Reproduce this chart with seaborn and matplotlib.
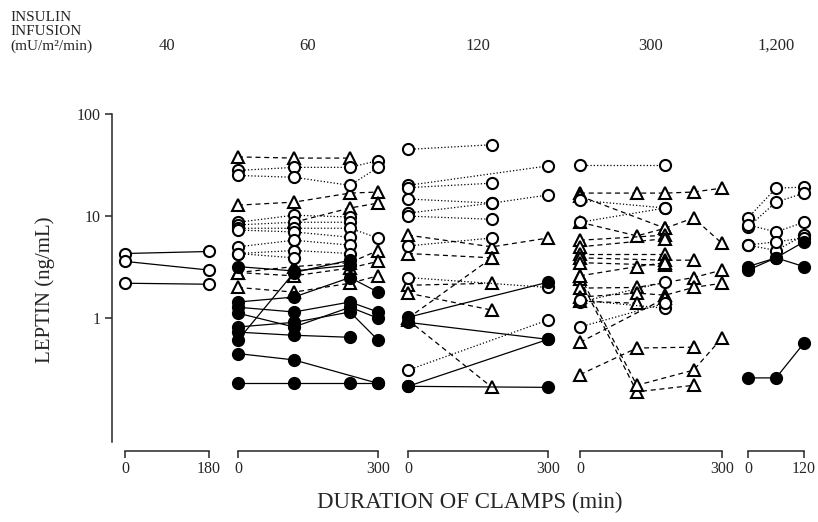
import numpy as np
import pandas as pd
import matplotlib
matplotlib.use("Agg")
import matplotlib.pyplot as plt
from matplotlib.ticker import NullLocator
import seaborn as sns

nan = np.nan

# insulin infusion rate written over each panel (mU/m2/min)
INFUSION = ["40", "60", "120", "300", "1,200"]

# leptin (ng/mL) per subject; open = open circles, tri = open triangles, filled = filled circles
P40_TIMES = [0, 180]
P40_OPEN = [[4.3, 4.5], [3.6, 2.96], [2.2, 2.15]]

P60_TIMES = [0, 120, 240, 300]
P60_OPEN = [[28, 30, 30, 35], [25, 24, 20, 30], [8.7, 10.2, 9.8, nan], [8.2, 8.7, 8.7, nan],
            [7.6, 7.6, 7.6, 6.1], [7.3, 7.0, 6.2, nan], [5.0, 5.8, 5.2, nan],
            [4.3, 4.6, 4.3, nan], [4.3, 3.9, nan, nan]]
P60_TRI = [[38, 37, 37, nan], [12.8, 13.7, 16.8, 17.2], [2.0, 1.8, 2.2, 2.6],
           [nan, 8.7, 12.0, 13.4], [2.8, 3.2, 3.5, 4.6], [2.8, 2.6, 3.1, 3.6]]
P60_FILLED = [[3.2, 2.9, 3.3, nan], [1.44, 1.61, 2.5, 1.8], [1.28, 1.15, 1.44, 1.15],
              [1.12, 0.82, 1.28, 1.0], [0.82, 0.91, 1.15, 0.61], [0.73, 0.68, 0.65, nan],
              [0.61, 2.8, 3.7, nan], [0.45, 0.39, nan, 0.23], [0.23, 0.23, 0.23, 0.23]]

P120_TIMES = [0, 180, 300]
P120_OPEN = [[45, 50, nan], [20, nan, 31], [19, 21, nan], [14.7, 13.4, 16.1],
             [10.7, 13.4, nan], [10, 9.3, nan], [5.1, 6.1, nan], [2.5, nan, 2.0],
             [0.31, nan, 0.96]]
P120_TRI = [[6.5, 5.0, 6.1], [4.3, 3.9, nan], [2.1, 2.2, nan], [1.76, 1.2, nan],
            [1.0, 3.9, nan], [0.96, 0.21, nan]]
P120_FILLED = [[1.02, nan, 2.25], [0.91, nan, 0.62], [0.215, nan, 0.62], [0.215, nan, 0.21]]

P300_TIMES = [0, 120, 180, 240, 300]
P300_OPEN = [[32, nan, 32, nan, nan], [14.3, nan, 12.0, nan, nan], [8.7, nan, 12.0, nan, nan],
             [1.44, nan, 2.25, nan, nan], [1.5, nan, 1.25, nan, nan], [0.82, nan, 1.40, nan, nan]]
P300_TRI = [[16.8, 16.8, 16.8, 17.2, 18.8], [15.7, nan, 7.6, nan, nan],
            [8.7, 6.4, 7.6, 9.6, 5.4], [5.8, nan, 6.5, nan, nan], [5.0, nan, 6.0, nan, nan],
            [4.3, nan, 4.3, nan, nan], [3.9, nan, 3.7, 3.7, nan], [3.5, nan, 3.3, nan, nan],
            [2.6, 3.2, 3.5, nan, nan], [2.6, 0.22, nan, 0.31, 0.64], [2.4, 0.19, nan, 0.22, nan],
            [1.97, 2.0, nan, 2.5, 2.96], [1.61, 1.76, 1.68, 2.0, 2.2], [1.47, 1.40, nan, nan, nan],
            [0.58, nan, 1.57, nan, nan], [0.28, 0.51, nan, 0.52, nan]]
P300_FILLED = []

P1200_TIMES = [0, 60, 120]
P1200_OPEN = [[9.6, 18.8, 19.2], [7.8, 13.7, 16.8], [8.2, 7.0, 8.7], [5.2, 4.6, 6.5],
              [5.2, 5.6, 6.1]]
P1200_TRI = []
P1200_FILLED = [[3.2, 3.9, 5.6], [2.96, 3.9, 3.2], [0.26, 0.26, 0.57]]

PANELS = [
    (P40_TIMES, P40_OPEN, [], []),
    (P60_TIMES, P60_OPEN, P60_TRI, P60_FILLED),
    (P120_TIMES, P120_OPEN, P120_TRI, P120_FILLED),
    (P300_TIMES, P300_OPEN, P300_TRI, P300_FILLED),
    (P1200_TIMES, P1200_OPEN, P1200_TRI, P1200_FILLED),
]

# pixel layout of the 818x522 figure: x of time 0 and of the last time in each panel
W, H = 818, 522
X0 = [125, 238, 408, 580, 748]
X1 = [209, 378, 548, 722, 804]
TOP, BOTTOM = 114, 451
YMIN, YMAX = 0.05, 100


def to_long(times, subjects, kind):
    rows = []
    for i, vals in enumerate(subjects):
        for t, v in zip(times, vals):
            if not np.isnan(v):
                rows.append({"subject": f"{kind}{i}", "time": t, "leptin": v, "kind": kind})
    return rows


sns.set_style("ticks")
plt.rcParams["font.family"] = ["Liberation Serif", "DejaVu Serif"]

fig = plt.figure(figsize=(W / 100, H / 100), dpi=100)

for i, (times, opn, tri, fil) in enumerate(PANELS):
    tmax = times[-1]
    s = (X1[i] - X0[i]) / tmax
    left_px = 112 if i == 0 else X0[i] - 8
    right_px = X1[i] + 8
    ax = fig.add_axes([left_px / W, 1 - BOTTOM / H, (right_px - left_px) / W, (BOTTOM - TOP) / H])
    ax.set_yscale("log")

    df = pd.DataFrame(to_long(times, tri, "tri") + to_long(times, opn, "open") + to_long(times, fil, "filled"))
    styles = {
        "tri": dict(marker="^", ls=(0, (4, 3)), mfc="white", ms=8.5),
        "open": dict(marker="o", ls="-" if i == 0 else ":", mfc="white", ms=8),
        "filled": dict(marker="o", ls="-", mfc="black", ms=8),
    }
    for kind in ["tri", "open", "filled"]:
        d = df[df["kind"] == kind] if len(df) else df
        if d.empty:
            continue
        st = styles[kind]
        sns.lineplot(data=d, x="time", y="leptin", units="subject", estimator=None, ax=ax,
                     color="black", lw=0.9, ls=st["ls"], marker=st["marker"], ms=st["ms"],
                     mfc=st["mfc"], mec="black", mew=1.5, clip_on=False, legend=False)

    ax.set_xlim((left_px - X0[i]) / s, (right_px - X0[i]) / s)
    ax.set_ylim(YMIN, YMAX)
    ax.set_xlabel("")
    ax.set_ylabel("")
    ax.patch.set_alpha(0)
    for side in ["top", "right"]:
        ax.spines[side].set_visible(False)
    ax.spines["bottom"].set_bounds(0, tmax)
    ax.spines["bottom"].set_linewidth(1.1)
    ax.set_xticks([0, tmax])
    ax.set_xticklabels(["0", str(tmax)])
    ax.tick_params(axis="x", direction="out", length=5, width=1.1, labelsize=11.5, pad=2)
    ax.yaxis.set_minor_locator(NullLocator())
    if i == 0:
        ax.spines["left"].set_bounds(0.061, 100)
        ax.spines["left"].set_linewidth(1.1)
        ax.set_yticks([1, 10, 100])
        ax.set_yticklabels(["1", "10", "100"])
        ax.tick_params(axis="y", direction="out", length=5, width=1.1, labelsize=11.5, pad=3)
    else:
        ax.spines["left"].set_visible(False)
        ax.tick_params(axis="y", which="both", left=False, labelleft=False)

    fig.text((X0[i] + X1[i]) / 2 / W, 1 - 46 / H, INFUSION[i], ha="center", va="center", fontsize=12)

fig.text(10 / W, 1 - 32 / H, "INSULIN\nINFUSION\n(mU/m²/min)", ha="left", va="center",
         fontsize=11, linespacing=1.1)
fig.text(45 / W, 1 - 290 / H, "LEPTIN (ng/mL)", rotation=90, ha="center", va="center", fontsize=15)
fig.text(470 / W, 1 - 502 / H, "DURATION OF CLAMPS (min)", ha="center", va="center", fontsize=16.5)

fig.savefig("out.png", dpi=100)
